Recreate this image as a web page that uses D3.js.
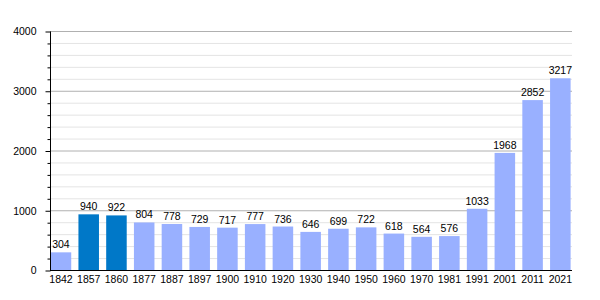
<!DOCTYPE html>
<html>
<head>
<meta charset="utf-8">
<script src="https://cdn.jsdelivr.net/npm/d3@7"></script>
<style>
  body { margin: 0; background: #fff; }
  text { font-family: "Liberation Sans", Arial, sans-serif; }
</style>
</head>
<body>
<div id="chart"></div>
<script>
// census years and population
const years = ['1842', '1857', '1860', '1877', '1887', '1897', '1900', '1910', '1920', '1930',
               '1940', '1950', '1960', '1970', '1981', '1991', '2001', '2011', '2021'];
const population = [304, 940, 922, 804, 778, 729, 717, 777, 736, 646,
                    699, 722, 618, 564, 576, 1033, 1968, 2852, 3217];
const highlighted = ['1857', '1860'];
const majorTicks = [0, 1000, 2000, 3000, 4000];

const width = 600, height = 300;
const fontSize = '10.5px';
const svg = d3.select('#chart').append('svg')
    .attr('width', width)
    .attr('height', height);

const x = d3.scaleBand()
    .domain(years)
    .range([50.7, 570.6])
    .paddingInner(0.26)
    .paddingOuter(0)
    .align(0);

const y = d3.scaleLinear()
    .domain([0, 4000])
    .range([270.5, 31.5]);

const minorTicks = d3.range(0, 4001, 200).filter(v => v % 1000 !== 0);

// Minor gridlines
svg.append('g').selectAll('line')
    .data(minorTicks)
    .enter().append('line')
    .attr('x1', 50).attr('x2', 572)
    .attr('y1', d => y(d)).attr('y2', d => y(d))
    .attr('stroke', '#e4e4e4')
    .attr('stroke-width', 1);

// Major gridlines
svg.append('g').selectAll('line')
    .data(majorTicks.filter(v => v > 0))
    .enter().append('line')
    .attr('x1', 50).attr('x2', 572)
    .attr('y1', d => y(d)).attr('y2', d => y(d))
    .attr('stroke', '#b0b0b0')
    .attr('stroke-width', 1);

// Bars
svg.append('g').selectAll('rect')
    .data(years)
    .enter().append('rect')
    .attr('x', d => x(d))
    .attr('y', (d, i) => y(population[i]))
    .attr('width', x.bandwidth())
    .attr('height', (d, i) => y(0) - y(population[i]))
    .attr('fill', d => highlighted.includes(d) ? '#0078c8' : '#99b0ff');

// Value labels
svg.append('g').selectAll('text')
    .data(years)
    .enter().append('text')
    .attr('x', d => x(d) + x.bandwidth() / 2)
    .attr('y', (d, i) => y(population[i]) - 4)
    .attr('text-anchor', 'middle')
    .attr('font-size', fontSize)
    .attr('fill', '#000')
    .text((d, i) => population[i]);

// Y axis, major ticks
const yAxis = svg.append('g')
    .attr('transform', 'translate(50.5,0)')
    .call(d3.axisLeft(y).tickValues(majorTicks).tickSize(5).tickPadding(9).tickFormat(d3.format('d')));
yAxis.selectAll('text').attr('font-size', fontSize).attr('fill', '#000')
    .style('font-family', '"Liberation Sans", Arial, sans-serif');
yAxis.selectAll('line').attr('stroke', '#000');
yAxis.select('.domain').attr('stroke', '#000').attr('d', `M0,${y(4000)}V${y(0)}`);

// Y axis, minor ticks
svg.append('g')
    .attr('transform', 'translate(50.5,0)')
    .call(d3.axisLeft(y).tickValues(minorTicks).tickSize(3).tickFormat(''))
    .call(g => g.select('.domain').remove())
    .selectAll('line').attr('stroke', '#000');

// X axis
const xAxis = svg.append('g')
    .attr('transform', `translate(0,${y(0)})`)
    .call(d3.axisBottom(x).tickSize(0).tickPadding(5));
xAxis.select('.domain').attr('stroke', '#000').attr('d', 'M50,0H572');
xAxis.selectAll('text').attr('font-size', fontSize).attr('fill', '#000')
    .style('font-family', '"Liberation Sans", Arial, sans-serif');
</script>
</body>
</html>
